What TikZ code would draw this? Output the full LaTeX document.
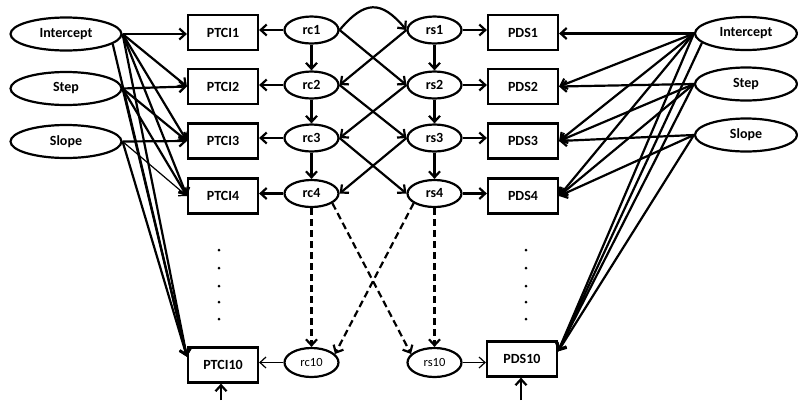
\documentclass[tikz,border=0pt]{standalone}
\usepackage{fontspec}
\setmainfont{Carlito}
\usetikzlibrary{shapes.geometric,arrows.meta}
\begin{document}
\begin{tikzpicture}[x=1pt,y=-1pt,
  lat/.style={ellipse,draw,line width=2.2pt,minimum width=111pt,minimum height=33pt,inner sep=0pt,font=\fontsize{14}{16}\selectfont\bfseries},
  latr/.style={lat,minimum width=102pt},
  obs/.style={rectangle,draw,line width=2.2pt,minimum width=70pt,minimum height=35pt,inner sep=0pt,font=\fontsize{14}{16}\selectfont\bfseries},
  res/.style={ellipse,draw,line width=2.2pt,minimum width=54pt,minimum height=27pt,inner sep=0pt,font=\fontsize{14}{16}\selectfont\bfseries},
  ressm/.style={res,minimum height=29pt,font=\fontsize{12.5}{14}\selectfont},
  arr/.style={-{Straight Barb[length=6pt,width=11pt]},line width=2.2pt},
  thinarr/.style={-{Straight Barb[length=6pt,width=11pt]},line width=1.2pt},
  darr/.style={arr,dash pattern=on 7pt off 4pt},
  dotmark/.style={circle,fill,inner sep=0pt,minimum size=3pt}
]
\useasboundingbox (0,0) rectangle (798,400);
% left latent
\node[lat] (LI) at (66,34) {Intercept};
\node[lat] (LS) at (66,88.5) {Step};
\node[lat] (LL) at (66,141.5) {Slope};
% right latent
\node[latr] (RI) at (746,33.5) {Intercept};
\node[latr] (RS) at (746,84) {Step};
\node[latr] (RL) at (746,135) {Slope};
% PTCI boxes
\node[obs] (P1) at (223,32.5) {PTCI1};
\node[obs] (P2) at (223,86.5) {PTCI2};
\node[obs] (P3) at (223,141) {PTCI3};
\node[obs] (P4) at (223,196) {PTCI4};
\node[obs] (P10) at (223,365) {PTCI10};
% PDS boxes
\node[obs] (D1) at (523,32.5) {PDS1};
\node[obs] (D2) at (523,86.5) {PDS2};
\node[obs] (D3) at (523,141) {PDS3};
\node[obs] (D4) at (523,196) {PDS4};
\node[obs] (D10) at (522,359) {PDS10};
% rc / rs
\node[res] (rc1) at (311.5,30) {rc1};
\node[res] (rc2) at (311.5,85) {rc2};
\node[res] (rc3) at (311.5,138) {rc3};
\node[res] (rc4) at (311.5,193.5) {rc4};
\node[ressm] (rc10) at (311.5,362.5) {rc10};
\node[res] (rs1) at (434.5,30) {rs1};
\node[res] (rs2) at (434.5,85) {rs2};
\node[res] (rs3) at (434.5,138) {rs3};
\node[res] (rs4) at (434.5,193.5) {rs4};
\node[ressm] (rs10) at (434.5,362.5) {rs10};
% dots
\foreach \y [count=\i] in {250,268,286,302,319}{
  \node[dotmark] (ldot\i) at (219,\y) {};
  \node[dotmark] (rdot\i) at (526,\y) {};
}
% left latent -> PTCI
\draw[arr] (LI.east) -- (P1.west |- LI.east);
\draw[arr] (LI.east) -- (P2.west);
\draw[arr] (LI.east) -- (P3.west);
\draw[arr] (LI.east) -- (P4.west);
\draw[arr] (LI.east) -- (P10.167);
\draw[arr] (LI.-12) -- (P10.167);
\draw[arr] (LS.east) -- (P2.west);
\draw[arr] (LS.east) -- (P3.west);
\draw[arr] (LS.east) -- (P4.west);
\draw[arr] (LS.east) -- (P10.167);
\draw[arr] (LL.east) -- (P3.west);
\draw[thinarr] (LL.east) -- (P4.west);
\draw[arr] (LL.east) -- (P10.167);
% right latent -> PDS
\draw[arr] (RI.west) -- (D1.east |- RI.west);
\draw[arr] (RI.west) -- (D2.east);
\draw[arr] (RI.west) -- (D3.east);
\draw[arr] (RI.west) -- (D4.east);
\draw[arr] (RI.west) -- (D10.12);
\draw[arr] (RI.192) -- (D10.12);
\draw[arr] (RS.west) -- (D2.east);
\draw[arr] (RS.west) -- (D3.east);
\draw[arr] (RS.west) -- (D4.east);
\draw[arr] (RS.west) -- (D10.12);
\draw[arr] (RL.west) -- (D3.east);
\draw[arr] (RL.west) -- (D4.east);
\draw[arr] (RL.west) -- (D10.12);
% rc -> PTCI, rs -> PDS
\foreach \k in {1,2,3,4}{
  \draw[arr] (rc\k.west) -- (rc\k.west -| P\k.east);
  \draw[arr] (rs\k.east) -- (rs\k.east -| D\k.west);
}
\draw[thinarr] (rc10.west) -- (rc10.west -| P10.east);
\draw[thinarr] (rs10.east) -- (rs10.east -| D10.west);
% vertical chains and crossings
\foreach \a/\b in {1/2,2/3,3/4}{
  \draw[arr] (rc\a.south) -- (rc\b.north);
  \draw[arr] (rs\a.south) -- (rs\b.north);
  \draw[arr] (rc\a.east) -- (rs\b.west);
  \draw[arr] (rs\a.west) -- (rc\b.east);
}
\draw[arr] (rc1.east) to[out=50,in=130,looseness=1.5] (rs1.west);
% dashed
\draw[darr] (rc4.south) -- (rc10.north);
\draw[darr] (rs4.south) -- (rs10.north);
\draw[darr] (rc4.-25) -- (rs10.160);
\draw[darr] (rs4.205) -- (rc10.20);
% bottom arrows
\coordinate (bl) at (221,400);
\coordinate (br) at (521,400);
\draw[arr] (bl) -- (bl |- P10.south);
\draw[arr] (br) -- (br |- D10.south);
\end{tikzpicture}
\end{document}
